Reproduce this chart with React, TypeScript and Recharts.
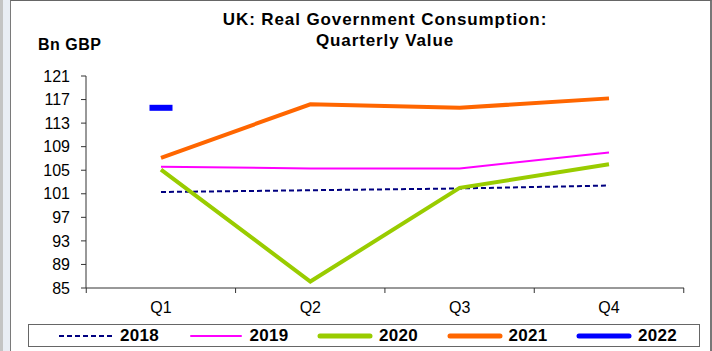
import { LineChart, Line, XAxis, YAxis } from 'recharts';

// Quarterly values, Bn GBP
const quarters = ['Q1', 'Q2', 'Q3', 'Q4'];
const y2018 = [101.3, 101.6, 101.9, 102.4];
const y2019 = [105.6, 105.3, 105.3, 108.0];
const y2020 = [105.1, 86.1, 102.0, 106.0];
const y2021 = [107.1, 116.2, 115.6, 117.2];
const y2022 = [115.6, null, null, null];
const yTicks = [85, 89, 93, 97, 101, 105, 109, 113, 117, 121];

const series = [
  { key: 'y2018', name: '2018', color: '#000080', width: 2, dash: '5 3' },
  { key: 'y2019', name: '2019', color: '#FF00FF', width: 2, dash: undefined },
  { key: 'y2020', name: '2020', color: '#99CC00', width: 4, dash: undefined },
  { key: 'y2021', name: '2021', color: '#FF6600', width: 4, dash: undefined },
  { key: 'y2022', name: '2022', color: '#0000FF', width: 6, dash: undefined },
];

const data = quarters.map((q, i) => ({
  q,
  y2018: y2018[i],
  y2019: y2019[i],
  y2020: y2020[i],
  y2021: y2021[i],
  y2022: y2022[i],
}));

const FONT = '"Liberation Sans", Arial, sans-serif';

// category label plus tick marks on band boundaries (Excel style)
function QuarterTick(props: any) {
  const { x, y, payload, index, width } = props;
  const band = width / quarters.length;
  const axisY = y - 13;
  return (
    <g>
      <line x1={x - band / 2} x2={x - band / 2} y1={axisY} y2={axisY + 5} stroke="#333" />
      {index === quarters.length - 1 && (
        <line x1={x + band / 2} x2={x + band / 2} y1={axisY} y2={axisY + 5} stroke="#333" />
      )}
      <text x={x} y={axisY + 25} textAnchor="middle" fontSize={16} fill="#000" fontFamily={FONT}>
        {payload.value}
      </text>
    </g>
  );
}

function DashDot(props: any) {
  const { cx, cy, index } = props;
  if (cy == null || cx == null) return <g key={index} />;
  return <rect key={index} x={cx - 11.5} y={cy - 3} width={23} height={6} fill="#0000FF" />;
}

export default function App() {
  return (
    <div
      style={{
        position: 'relative',
        width: 712,
        height: 351,
        background: '#fff',
        overflow: 'hidden',
        fontFamily: FONT,
      }}
    >
      <style>{'body{margin:0}'}</style>
      {/* frame */}
      <div style={{ position: 'absolute', left: 0, top: 0, width: 3, height: 351, background: '#c4c4c4' }} />
      <div style={{ position: 'absolute', left: 3, top: 0, width: 7, height: 351, background: '#e9edf4' }} />
      <div
        style={{
          position: 'absolute',
          left: 10,
          top: 0,
          width: 699,
          height: 360,
          borderLeft: '1px solid #7a7a7a',
          borderTop: '1px solid #666',
          borderRight: '2px solid #777',
        }}
      />

      <div style={{ position: 'absolute', left: 0, top: 0 }}>
        <LineChart width={712} height={351} data={data} margin={{ top: 76, right: 28, bottom: 33, left: 0 }}>
          <XAxis
            dataKey="q"
            height={30}
            padding={{ left: 75, right: 75 }}
            stroke="#333"
            tickLine={false}
            tickSize={5}
            tickMargin={8}
            tick={<QuarterTick />}
            interval={0}
          />
          <YAxis
            width={86}
            domain={[85, 121]}
            ticks={yTicks}
            interval={0}
            stroke="#333"
            tickSize={5}
            tickMargin={11}
            tick={{ fill: '#000', fontSize: 16, fontFamily: FONT }}
          />
          {series.slice(0, 4).map((s) => (
            <Line
              key={s.key}
              dataKey={s.key}
              type="linear"
              stroke={s.color}
              strokeWidth={s.width}
              strokeDasharray={s.dash}
              dot={false}
              isAnimationActive={false}
            />
          ))}
          <Line
            dataKey="y2022"
            type="linear"
            stroke="none"
            dot={<DashDot />}
            isAnimationActive={false}
          />
        </LineChart>
      </div>

      <div
        style={{
          position: 'absolute',
          left: 150,
          width: 470,
          top: 9,
          textAlign: 'center',
          fontWeight: 'bold',
          fontSize: 17,
          lineHeight: '21px',
          letterSpacing: 0.9,
          color: '#000',
        }}
      >
        UK: Real Government Consumption:
        <br />
        Quarterly Value
      </div>
      <div
        style={{
          position: 'absolute',
          left: 38,
          top: 36,
          fontWeight: 'bold',
          fontSize: 16,
          letterSpacing: 0.5,
          color: '#000',
        }}
      >
        Bn GBP
      </div>

      {/* legend */}
      <div
        style={{
          position: 'absolute',
          left: 28,
          top: 324,
          width: 670,
          height: 21,
          border: '1px solid #666',
          background: '#fff',
        }}
      >
        {series.map((s, i) => (
          <div
            key={s.key}
            style={{
              position: 'absolute',
              left: 29 + i * 129.5,
              top: 0,
              height: 21,
              display: 'flex',
              alignItems: 'center',
            }}
          >
            <svg width={56} height={8}>
              <line
                x1={s.dash ? 1 : 3}
                x2={s.dash ? 55 : 53}
                y1={4}
                y2={4}
                stroke={s.color}
                strokeWidth={s.key === 'y2018' || s.key === 'y2019' ? 2 : 5}
                strokeDasharray={s.dash}
                strokeLinecap={s.dash ? 'butt' : 'round'}
              />
            </svg>
            <span style={{ marginLeft: 6, fontWeight: 'bold', fontSize: 17, letterSpacing: 0.3 }}>{s.name}</span>
          </div>
        ))}
      </div>
    </div>
  );
}
